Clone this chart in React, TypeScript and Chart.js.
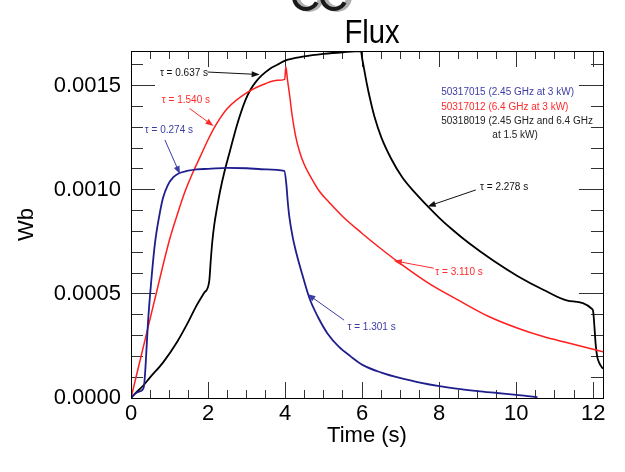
import React, { useEffect, useRef } from "react";
import { Chart, registerables } from "chart.js";
Chart.register(...registerables);

const FONT = '"Liberation Sans", Arial, Helvetica, sans-serif';

// ---- Data (time in s, flux in Wb) ----
const blueT = [0, 0.1, 0.2, 0.3, 0.34, 0.38, 0.44, 0.53, 0.62, 0.73, 0.83, 0.95, 1.1, 1.26, 1.45, 1.7, 2.0, 2.5, 3.0, 3.5, 3.98, 4.03, 4.07, 4.11, 4.2, 4.3, 4.45, 4.63, 4.85, 5.1, 5.4, 5.7, 6.02, 6.5, 7.0, 7.5, 8.0, 8.5, 9.0, 9.5, 10.0, 10.3, 10.55];
const blueV = [0, 0.00002, 0.00003, 0.00004, 0.00006, 0.00016, 0.00036, 0.00057, 0.00074, 0.00087, 0.00096, 0.00102, 0.00106, 0.00108, 0.00109, 0.001098, 0.0011, 0.001105, 0.001103, 0.001098, 0.00109, 0.00103, 0.00094, 0.00087, 0.00077, 0.00069, 0.00059, 0.00048, 0.00039, 0.00031, 0.000245, 0.0002, 0.000158, 0.000122, 0.000095, 0.000074, 0.000057, 0.000044, 0.000033, 0.000024, 0.000015, 0.000009, 0.000004];

const redT = [0, 0.3, 0.6, 1.0, 1.2, 1.4, 1.6, 1.8, 2.0, 2.2, 2.5, 3.0, 3.5, 3.8, 3.99, 4.02, 4.06, 4.12, 4.18, 4.27, 4.38, 4.5, 4.7, 4.9, 5.14, 5.5, 6.0, 6.43, 7.03, 7.73, 8.59, 9.3, 10.04, 10.7, 11.33, 12.25];
const redV = [0, 0.00023, 0.00046, 0.00076, 0.00088, 0.00099, 0.00108, 0.00116, 0.00124, 0.00131, 0.00139, 0.001465, 0.00151, 0.001525, 0.00153, 0.00159, 0.00153, 0.00145, 0.00136, 0.00126, 0.00118, 0.00112, 0.00105, 0.00099, 0.00094, 0.00087, 0.00079, 0.000725, 0.00064, 0.00055, 0.00046, 0.00039, 0.000335, 0.000295, 0.000265, 0.000222];

const blackT = [0, 0.1, 0.32, 0.5, 0.83, 1.2, 1.5, 1.69, 1.9, 2.03, 2.07, 2.11, 2.16, 2.23, 2.32, 2.43, 2.56, 2.75, 2.97, 3.1, 3.25, 3.4, 3.6, 3.8, 4.0, 4.5, 5.0, 5.5, 5.97, 6.0, 6.05, 6.12, 6.2, 6.32, 6.5, 6.75, 7.04, 7.4, 7.73, 8.0, 8.33, 8.76, 9.4, 10.04, 10.7, 11.33, 11.98, 12.0, 12.03, 12.06, 12.1, 12.15, 12.25];
const blackV = [0, 0.00002, 0.00006, 0.0001, 0.00017, 0.00027, 0.00037, 0.00044, 0.000505, 0.00056, 0.00066, 0.00075, 0.00083, 0.00091, 0.001, 0.00109, 0.00118, 0.00131, 0.00143, 0.00148, 0.00152, 0.00155, 0.00158, 0.0016, 0.00162, 0.00164, 0.001652, 0.00166, 0.001665, 0.00163, 0.00158, 0.00151, 0.00144, 0.00135, 0.00125, 0.00115, 0.00106, 0.00098, 0.000915, 0.000865, 0.00081, 0.000745, 0.00066, 0.000585, 0.00052, 0.000468, 0.000425, 0.00041, 0.00034, 0.00026, 0.0002, 0.00017, 0.00014];

const seriesNames = ["50317015", "50317012", "50318019"];
const seriesColors = ["#1e1e8c", "#ff1e1e", "#000000"];

// ---- Axis settings ----
const xMin = 0;
const xMax = 12.25;
const xStep = 2;
const xMinorStep = 0.5;
const yMin = 0;
const yMax = 0.001666;
const yStep = 0.0005;
const yMinorStep = 0.0001;

// ---- Annotations (data coordinates) ----
const annTexts = ["τ = 0.637 s", "τ = 1.540 s", "τ = 0.274 s", "τ = 2.278 s", "τ = 3.110 s", "τ = 1.301 s"];
const annColors = ["#111111", "#ff2a2a", "#3c3ca6", "#111111", "#ff2a2a", "#3c3ca6"];
const annTextT = [0.75, 0.8, 0.36, 9.06, 7.9, 5.62];
const annTextV = [0.00156, 0.00143, 0.001287, 0.00101, 0.000606, 0.000342];
const arrowFromT = [1.99, 1.52, 0.88, 8.95, 7.86, 5.53];
const arrowFromV = [0.001565, 0.00139, 0.001239, 0.000999, 0.000623, 0.000374];
const arrowToT = [3.34, 2.14, 1.27, 7.7, 6.82, 4.58];
const arrowToV = [0.001553, 0.001306, 0.001075, 0.00092, 0.000659, 0.000499];

// ---- Legend text lines (data coordinates) ----
const legendLines = ["50317015 (2.45 GHz at 3 kW)", "50317012 (6.4 GHz at 3 kW)", "50318019 (2.45 GHz and 6.4 GHz", "at 1.5 kW)"];
const legendColors = ["#3c3ca6", "#ff2a2a", "#222222", "#222222"];
const legendAlign = ["left", "left", "left", "center"];
const legendT = [8.05, 8.05, 8.05, 9.97];
const legendV = [0.001466, 0.001398, 0.00133, 0.001263];

const titleText = "Flux";
const xTitle = "Time (s)";
const yTitle = "Wb";

function toPoints(ts: number[], vs: number[]) {
  return ts.map((t, i) => ({ x: t, y: vs[i] }));
}

// inward tick marks drawn by Chart.js itself (negative tick length)
function tickGrid(len: number) {
  return {
    display: true,
    drawOnChartArea: false,
    drawTicks: true,
    tickLength: -len,
    color: "#333333",
    tickColor: "#333333",
    lineWidth: 1,
    tickWidth: 1,
  };
}

function tickOnlyAxis(axis: "x" | "y", position: string, step: number, len: number, weight: number) {
  const isX = axis === "x";
  return {
    type: "linear" as const,
    axis,
    position,
    weight,
    min: isX ? xMin : yMin,
    max: isX ? xMax : yMax,
    grid: tickGrid(len),
    border: { display: false },
    ticks: { stepSize: step, includeBounds: false, display: false },
    afterFit: (s: any) => {
      if (isX) s.height = 0;
      else s.width = 0;
    },
  };
}

function paintFrame(chart: any) {
  const c: CanvasRenderingContext2D = chart.ctx;
  const area = chart.chartArea;
  const L = Math.round(area.left);
  const R = Math.round(area.right);
  const T = Math.round(area.top);
  const B = Math.round(area.bottom);
  c.save();
  c.fillStyle = "#000000";
  c.fillRect(L, T, R - L + 1, 1);
  c.fillRect(L, B, R - L + 1, 1);
  c.fillRect(L, T, 1, B - T + 1);
  c.fillRect(R, T, 1, B - T + 1);
  c.restore();
}

function paintAnnotations(chart: any) {
  const ctx: CanvasRenderingContext2D = chart.ctx;
  const xs = chart.scales.x;
  const ys = chart.scales.y;
  ctx.save();
  ctx.font = `10px ${FONT}`;
  ctx.textBaseline = "middle";
  for (let i = 0; i < annTexts.length; i++) {
    ctx.fillStyle = annColors[i];
    ctx.strokeStyle = annColors[i];
    ctx.textAlign = "left";
    ctx.fillText(annTexts[i], xs.getPixelForValue(annTextT[i]), ys.getPixelForValue(annTextV[i]));
    const x1 = xs.getPixelForValue(arrowFromT[i]);
    const y1 = ys.getPixelForValue(arrowFromV[i]);
    const x2 = xs.getPixelForValue(arrowToT[i]);
    const y2 = ys.getPixelForValue(arrowToV[i]);
    const ang = Math.atan2(y2 - y1, x2 - x1);
    const hl = 8;
    const hw = 3;
    ctx.lineWidth = 1;
    ctx.beginPath();
    ctx.moveTo(x1, y1);
    ctx.lineTo(x2 - Math.cos(ang) * (hl - 1), y2 - Math.sin(ang) * (hl - 1));
    ctx.stroke();
    ctx.beginPath();
    ctx.moveTo(x2, y2);
    ctx.lineTo(x2 - Math.cos(ang) * hl + Math.sin(ang) * hw, y2 - Math.sin(ang) * hl - Math.cos(ang) * hw);
    ctx.lineTo(x2 - Math.cos(ang) * hl - Math.sin(ang) * hw, y2 - Math.sin(ang) * hl + Math.cos(ang) * hw);
    ctx.closePath();
    ctx.fill();
  }
  for (let i = 0; i < legendLines.length; i++) {
    ctx.fillStyle = legendColors[i];
    ctx.textAlign = legendAlign[i] as CanvasTextAlign;
    ctx.fillText(legendLines[i], xs.getPixelForValue(legendT[i]), ys.getPixelForValue(legendV[i]));
  }
  ctx.restore();
}

function paintTitle(chart: any) {
  const ctx: CanvasRenderingContext2D = chart.ctx;
  ctx.save();
  ctx.fillStyle = "#000";
  ctx.font = `34px ${FONT}`;
  ctx.textAlign = "center";
  ctx.textBaseline = "alphabetic";
  ctx.translate(372, 43);
  ctx.scale(0.86, 1);
  ctx.fillText(titleText, 0, 0);
  ctx.restore();
  ctx.save();
  const centers = [306, 334];
  for (const cx of centers) {
    ctx.beginPath();
    ctx.arc(cx + 3, -3, 12, 0, Math.PI * 2);
    ctx.strokeStyle = "#b0b0b0";
    ctx.lineWidth = 6;
    ctx.stroke();
    ctx.beginPath();
    ctx.arc(cx, -3, 12, 0.15 * Math.PI, 0.95 * Math.PI);
    ctx.strokeStyle = "#1a1a1a";
    ctx.lineWidth = 4;
    ctx.stroke();
  }
  ctx.restore();
}

export default function App() {
  const ref = useRef<HTMLCanvasElement | null>(null);
  useEffect(() => {
    if (!ref.current) return;
    const allT = [blueT, redT, blackT];
    const allV = [blueV, redV, blackV];
    const chart = new Chart(ref.current, {
      type: "line",
      data: {
        datasets: seriesNames.map((name, i) => ({
          label: name,
          data: toPoints(allT[i], allV[i]),
          xAxisID: "x",
          yAxisID: "y",
          borderColor: seriesColors[i],
          backgroundColor: seriesColors[i],
          borderWidth: i === 1 ? 1.5 : 1.8,
          pointRadius: 0,
          cubicInterpolationMode: "monotone" as const,
        })),
      },
      options: {
        animation: false,
        responsive: false,
        layout: { padding: { top: 51, right: 20, bottom: 0, left: 0 } },
        plugins: {
          legend: { display: false },
          tooltip: { enabled: false },
        },
        scales: {
          x: {
            type: "linear",
            position: "bottom",
            weight: 0,
            min: xMin,
            max: xMax,
            grid: tickGrid(16),
            border: { display: false },
            ticks: {
              stepSize: xStep,
              includeBounds: false,
              padding: 19,
              color: "#000",
              font: { size: 22, family: FONT },
              maxRotation: 0,
              callback: (v: any) => String(v),
            },
            title: {
              display: true,
              text: xTitle,
              color: "#000",
              font: { size: 22, family: FONT },
              padding: { top: 0, bottom: 23 },
            },
            afterFit: (s: any) => {
              s.height = 74;
            },
          },
          xMinorBottom: tickOnlyAxis("x", "bottom", xMinorStep, 8, -1),
          xMajorTop: tickOnlyAxis("x", "top", xStep, 16, 0),
          xMinorTop: tickOnlyAxis("x", "top", xMinorStep, 8, -1),
          y: {
            type: "linear",
            position: "left",
            weight: 0,
            min: yMin,
            max: yMax,
            grid: tickGrid(24),
            border: { display: false },
            ticks: {
              stepSize: yStep,
              includeBounds: false,
              padding: 34,
              color: "#000",
              font: { size: 22, family: FONT },
              callback: (v: any) => Number(v).toFixed(4),
            },
            title: {
              display: true,
              text: yTitle,
              color: "#000",
              font: { size: 22, family: FONT },
              padding: { top: 14, bottom: 0 },
            },
            afterFit: (s: any) => {
              s.width = 131;
            },
          },
          yMinorLeft: tickOnlyAxis("y", "left", yMinorStep, 12, -1),
          yMajorRight: tickOnlyAxis("y", "right", yStep, 24, 0),
          yMinorRight: tickOnlyAxis("y", "right", yMinorStep, 12, -1),
        },
      } as any,
      plugins: [
        {
          id: "decorAll",
          afterDraw: (ch: any) => {
            paintFrame(ch);
            paintAnnotations(ch);
            paintTitle(ch);
          },
        },
      ],
    });
    return () => chart.destroy();
  }, []);
  return (
    <div style={{ position: "absolute", left: 0, top: 0 }}>
      <canvas ref={ref} width={625} height={472} />
    </div>
  );
}
